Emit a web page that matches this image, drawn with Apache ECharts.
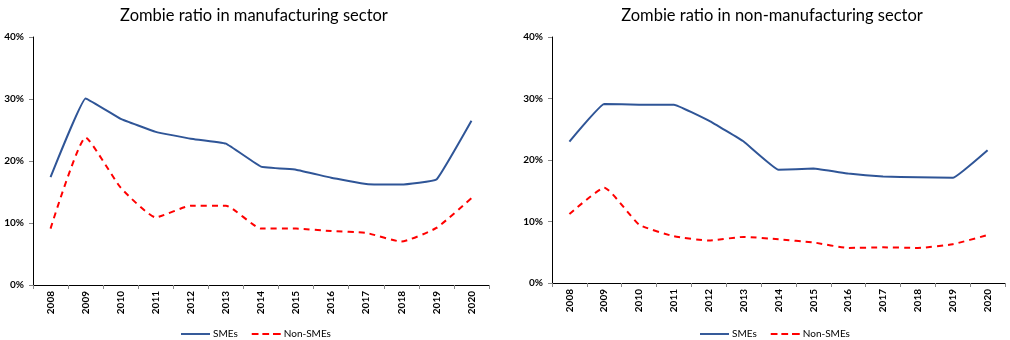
<!DOCTYPE html>
<html>
<head>
<meta charset="utf-8">
<script src="https://cdn.jsdelivr.net/npm/echarts@6/dist/echarts.min.js"></script>
<style>
  html, body { margin: 0; padding: 0; background: #fff; }
  #chart { width: 1010px; height: 340px; }
</style>
</head>
<body>
<div id="chart"></div>
<script>
// Years on the horizontal axis
const years = ['2008','2009','2010','2011','2012','2013','2014','2015','2016','2017','2018','2019','2020'];

// Zombie firm ratios (%) - manufacturing sector
const mfgSMEs    = [17.4, 30.1, 26.8, 24.7, 23.6, 22.8, 19.1, 18.6, 17.3, 16.3, 16.2, 17.0, 26.5];
const mfgNonSMEs = [9.1, 23.8, 15.7, 10.9, 12.8, 12.8, 9.1, 9.1, 8.7, 8.4, 7.0, 9.2, 14.0];

// Zombie firm ratios (%) - non-manufacturing sector
const nonMfgSMEs    = [23.0, 29.1, 29.0, 29.0, 26.4, 23.0, 18.4, 18.6, 17.8, 17.3, 17.2, 17.1, 21.6];
const nonMfgNonSMEs = [11.2, 15.5, 9.5, 7.6, 6.9, 7.5, 7.1, 6.6, 5.7, 5.8, 5.7, 6.3, 7.8];

const titles = ['Zombie ratio in manufacturing sector', 'Zombie ratio in non-manufacturing sector'];
const seriesNames = ['SMEs', 'Non-SMEs'];

const BLUE = '#2F5597';
const RED = '#FF0000';
const FONT = 'Lato, "Open Sans", sans-serif';

const chart = echarts.init(document.getElementById('chart'), null, { renderer: 'canvas' });

const grids = [
  { left: 33, top: 37, width: 456, height: 248 },
  { left: 552, top: 37, width: 453, height: 246 }
];

function xAxisFor(i) {
  return {
    type: 'category', gridIndex: i, data: years, boundaryGap: true,
    axisLine: { lineStyle: { color: '#000', width: 1 } },
    axisTick: { show: true, length: 4, lineStyle: { color: '#888' } },
    axisLabel: { rotate: 90, fontSize: 10, fontWeight: 'bold', color: '#000', fontFamily: FONT, margin: 6 },
    splitLine: { show: false }
  };
}
function yAxisFor(i) {
  return {
    type: 'value', gridIndex: i, min: 0, max: 40, interval: 10,
    axisLine: { show: true, lineStyle: { color: '#000', width: 1 } },
    axisTick: { show: true, length: 4, lineStyle: { color: '#888' } },
    axisLabel: { formatter: '{value}%', fontSize: 10, fontWeight: 'bold', color: '#000', fontFamily: FONT, margin: 9 },
    splitLine: { show: false }
  };
}
function lineSeries(name, data, idx, color, dashed) {
  return {
    name: name, type: 'line', xAxisIndex: idx, yAxisIndex: idx, data: data,
    smooth: dashed ? 0.15 : 0.08, symbol: 'none',
    lineStyle: { color: color, width: 2, type: dashed ? [6, 5] : 'solid' },
    itemStyle: { color: color }
  };
}
function legendFor(left) {
  return {
    data: [
      { name: seriesNames[0], icon: 'path://M0,0 L30,0 L30,2 L0,2 Z' },
      { name: seriesNames[1], icon: 'path://M0,0 L7,0 L7,2 L0,2 Z M11,0 L18,0 L18,2 L11,2 Z M22,0 L30,0 L30,2 L22,2 Z' }
    ],
    left: left, top: 324, itemWidth: 29, itemHeight: 3, itemGap: 14,
    selectedMode: false,
    textStyle: { fontSize: 10, fontFamily: FONT, color: '#000', padding: [0, 0, 0, -2] }
  };
}

chart.setOption({
  animation: false,
  backgroundColor: '#fff',
  title: [
    { text: titles[0], left: 249, top: 2, textAlign: 'center',
      textStyle: { fontSize: 16.5, fontWeight: 'normal', color: '#000', fontFamily: FONT } },
    { text: titles[1], left: 767, top: 2, textAlign: 'center',
      textStyle: { fontSize: 16.5, fontWeight: 'normal', color: '#000', fontFamily: FONT } }
  ],
  legend: [legendFor(176), legendFor(695)],
  grid: grids,
  xAxis: [xAxisFor(0), xAxisFor(1)],
  yAxis: [yAxisFor(0), yAxisFor(1)],
  series: [
    lineSeries(seriesNames[0], mfgSMEs, 0, BLUE, false),
    lineSeries(seriesNames[1], mfgNonSMEs, 0, RED, true),
    lineSeries(seriesNames[0], nonMfgSMEs, 1, BLUE, false),
    lineSeries(seriesNames[1], nonMfgNonSMEs, 1, RED, true)
  ]
});
</script>
</body>
</html>
